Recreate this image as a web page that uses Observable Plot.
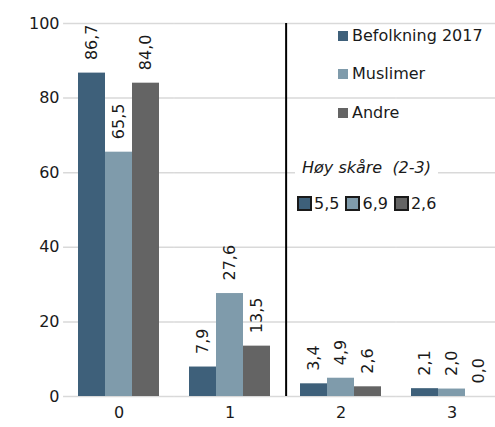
<!DOCTYPE html>
<html>
<head>
<meta charset="utf-8">
<script src="https://cdn.jsdelivr.net/npm/d3@7"></script>
<script src="https://cdn.jsdelivr.net/npm/@observablehq/plot@0.6"></script>
<style>
  html, body { margin: 0; padding: 0; background: #fff; overflow: hidden; }
  #wrap { position: relative; width: 495px; height: 427px; overflow: hidden; font-family: "DejaVu Sans", sans-serif; color: #1a1a1a; }
  #chart { width: 508px; }
  #chart svg { display: block; max-width: none !important; }
  .leg { position: absolute; font-size: 16px; line-height: 1; white-space: nowrap; display: flex; align-items: center; }
  .sw { display: inline-block; width: 10px; height: 10px; margin-right: 4px; }
  .swb { display: inline-block; width: 15px; height: 15px; box-sizing: border-box; border: 2px solid #1a1a1a; margin-right: 2px; }
</style>
</head>
<body>
<div id="wrap"><div id="chart"></div></div>
<script>
// ---- data ----
const categories = ["0", "1", "2", "3"];
const series = ["Befolkning 2017", "Muslimer", "Andre"];
const befolkning = [86.7, 7.9, 3.4, 2.1];
const muslimer = [65.5, 27.6, 4.9, 2.0];
const andre = [84.0, 13.5, 2.6, 0.0];
const highScoreLabel = "Høy skåre  (2-3)";
const highScore = [5.5, 6.9, 2.6];
const yTicks = [0, 20, 40, 60, 80, 100];
const colors = ["#3e607a", "#7f9bab", "#646464"];

// ---- table for the library ----
const values = [befolkning, muslimer, andre];
const rows = [];
categories.forEach((c, i) => {
  series.forEach((s, j) => rows.push({cat: c, s, v: values[j][i]}));
});
const fmt = v => v.toFixed(1).replace(".", ",");

// ---- layout ----
const W = 508, H = 427, ML = 62, MR = 0, MT = 23, MB = 31;
const padInner = 0.25;
const step = (W - ML - MR) / categories.length;
const gap = step * padInner;
const barW = step * (1 - padInner) / series.length;

const chart = Plot.plot({
  width: W,
  height: H,
  marginLeft: ML,
  marginRight: MR,
  marginTop: MT,
  marginBottom: MB,
  style: {fontFamily: "DejaVu Sans, sans-serif", fontSize: "16px", color: "#1a1a1a", background: "white", maxWidth: "none"},
  fx: {domain: categories, paddingInner: padInner, paddingOuter: padInner / 2, tickSize: 0, tickPadding: 10, label: null},
  x: {domain: series, padding: 0, axis: null},
  y: {domain: [0, 100], ticks: yTicks, tickSize: 0, tickPadding: 18, label: null},
  color: {domain: series, range: colors},
  marks: [
    Plot.ruleY(yTicks, {stroke: "#d9d9d9", strokeWidth: 1.5, insetLeft: -gap / 2, insetRight: -gap / 2}),
    Plot.barY(rows, {fx: "cat", x: "s", y: "v", fill: "s"}),
    Plot.ruleX([{cat: categories[2], s: series[0]}], {fx: "cat", x: "s", y1: 0, y2: 100, dx: -(barW / 2 + gap / 2), stroke: "#000", strokeWidth: 2}),
    Plot.text(rows, {fx: "cat", x: "s", y: "v", text: d => fmt(d.v), rotate: -90, textAnchor: "start", dy: -13, fill: "#1a1a1a", fontSize: 16})
  ]
});
document.getElementById("chart").appendChild(chart);

// ---- legend overlay ----
const wrap = document.getElementById("wrap");
const legTops = [35.5, 74, 113];
series.forEach((s, j) => {
  const d = document.createElement("div");
  d.className = "leg";
  d.style.left = "338px";
  d.style.top = (legTops[j] - 8) + "px";
  d.style.height = "16px";
  d.innerHTML = `<span class="sw" style="background:${colors[j]}"></span><span>${s}</span>`;
  wrap.appendChild(d);
});
const hs = document.createElement("div");
hs.className = "leg";
hs.style.left = "295px";
hs.style.top = "160px";
hs.style.height = "16px";
hs.style.fontStyle = "italic";
hs.style.background = "#fff";
hs.style.padding = "0 7px";
hs.style.whiteSpace = "pre";
hs.textContent = highScoreLabel;
wrap.appendChild(hs);
const hsRow = document.createElement("div");
hsRow.className = "leg";
hsRow.style.left = "297px";
hsRow.style.top = "195.5px";
hsRow.style.height = "16px";
hsRow.innerHTML = highScore.map((v, j) =>
  `<span class="swb" style="background:${colors[j]};${j ? "margin-left:6px;" : ""}"></span><span>${fmt(v)}</span>`).join("");
wrap.appendChild(hsRow);
</script>
</body>
</html>
